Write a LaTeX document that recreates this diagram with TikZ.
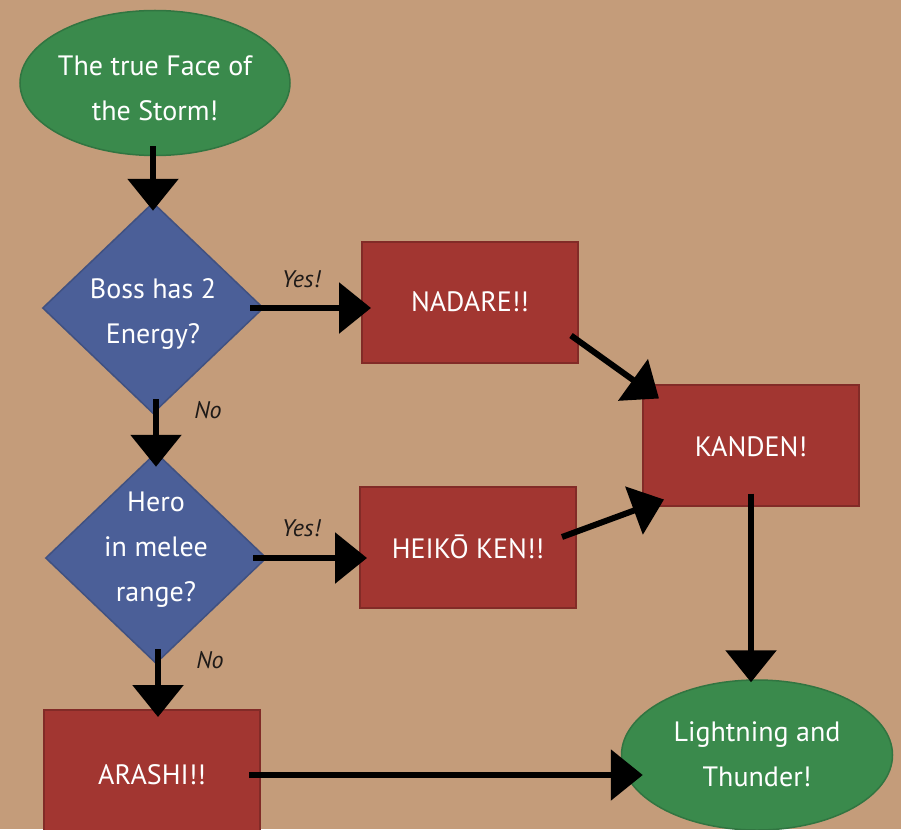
\documentclass[tikz,border=0pt]{standalone}
\usepackage{fontspec}
\setmainfont{PT Sans}
\usetikzlibrary{shapes.geometric,arrows.meta,calc}
\definecolor{bg}{HTML}{C49C7A}
\definecolor{gfill}{HTML}{3A8A4C}
\definecolor{bfill}{HTML}{4B5F98}
\definecolor{rfill}{HTML}{A23631}
\definecolor{ink}{HTML}{1E1A18}
\begin{document}
\begin{tikzpicture}[x=1pt,y=-1pt,
  term/.style={ellipse, fill=gfill, draw=gfill!85!black, line width=1.5pt, minimum width=270pt, minimum height=145pt, inner sep=0pt},
  dec/.style={diamond, fill=bfill, draw=bfill!85!black, line width=1.5pt, minimum width=221pt, minimum height=211pt, inner sep=0pt},
  act/.style={rectangle, fill=rfill, draw=rfill!80!black, line width=2pt, minimum width=216pt, minimum height=121pt, inner sep=0pt},
  txt/.style={text=white, align=center, font=\fontsize{28}{45}\selectfont},
  lab/.style={text=ink, font=\itshape\fontsize{24}{26}\selectfont},
  arr/.style={draw=black, line width=6pt, -{Triangle[width=50pt,length=32pt]}}]
\useasboundingbox (0,0) rectangle (901,829);
\fill[bg] (0,0) rectangle (901,829);
\clip (0,0) rectangle (901,829);

% shapes
\node[term] (s) at (155,83) {};
\node[txt] (st) at (155,88) {The true Face of\\the Storm!};
\node[dec] (d1) at (153,308) {};
\node[txt] (d1t) at (153,314) {Boss has 2\\Energy?};
\node[dec] (d2) at (156,558) {};
\node[txt] (d2t) at (156,550) {Hero\\in melee\\range?};
\node[act] (na) at (470,302) {};
\node[txt] (nat) at (470,302) {NADARE!!};
\node[act] (he) at (468,547) {};
\node[txt] (het) at (468,547) {HEIKŌ KEN!!};
\node[act] (ka) at (751,445) {};
\node[txt] (kat) at (751,447) {KANDEN!};
\node[act, minimum height=130pt] (ar) at (152,775) {};
\node[txt] (art) at (152,775) {ARASHI!!};
\node[term, minimum width=271pt, minimum height=150pt] (e) at (757,755) {};
\node[txt] (et) at (757,754) {Lightning and\\Thunder!};

% labels
\node[lab] (y1) at (301,279) {Yes!};
\node[lab] (n1) at (208,410) {No};
\node[lab] (y2) at (301,528) {Yes!};
\node[lab] (n2) at (210,660) {No};

% connectors
\draw[arr] ([yshift=10pt]s.south -| d1.north) -- ([yshift=-9pt]d1.north);
\draw[arr] ([xshift=-14pt]d1.east) -- ([xshift=10pt]d1.east -| na.west);
\draw[arr] ([yshift=15pt]d1.south -| d2.north) -- ([yshift=-15pt]d2.north);
\draw[arr] ([xshift=-14pt]d2.east) -- ([xshift=8pt]d2.east -| he.west);
\draw[arr] ([yshift=15pt,xshift=2pt]d2.south) -- ([yshift=-8pt,xshift=2pt]d2.south |- ar.north);
\draw[arr] ($(na.south east)+(-8,-28)$) -- ($(ka.north west)+(17,15)$);
\draw[arr] ($(he.east)+(-15,-10)$) -- ($(ka.south west)+(22,-7)$);
\draw[arr] ([yshift=13pt]ka.south) -- ([yshift=-3pt]ka.south |- e.north);
\draw[arr] ([xshift=-12pt]ar.east) -- ([xshift=22pt]ar.east -| e.west);
\end{tikzpicture}
\end{document}
